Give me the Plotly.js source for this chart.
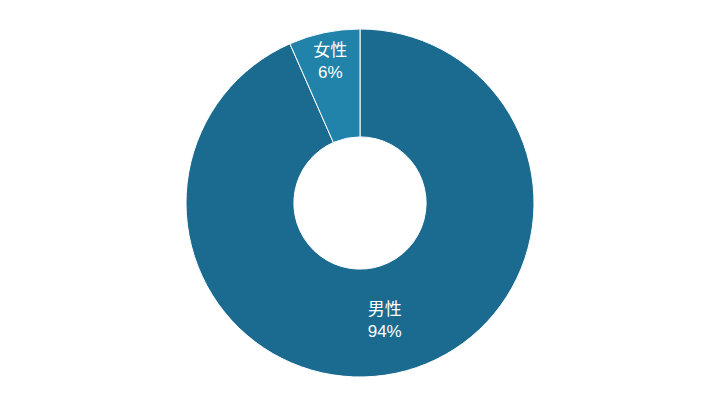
<!DOCTYPE html>
<html>
<head>
<meta charset="utf-8">
<script src="https://cdn.plot.ly/plotly-3.0.1.min.js"></script>
<style>body{margin:0;background:#fff}#chart{width:720px;height:405px}</style>
</head>
<body>
<div id="chart"></div>
<script>
const labels = ['男性', '女性'];
const shares = [93.4, 6.6];
const shareText = ['94%', '6%'];
const colors = ['#1b6b91', '#2283aa'];

const trace = {
	type: 'pie',
	labels: labels,
	values: shares,
	text: shareText,
	hole: 0.38,
	sort: false,
	direction: 'clockwise',
	rotation: 0,
	texttemplate: '%{label}<br>%{text}',
	textposition: 'inside',
	insidetextorientation: 'horizontal',
	textfont: {color: '#ffffff', size: 17, family: 'Liberation Sans, Noto Sans CJK JP, sans-serif'},
	marker: {colors: colors, line: {color: '#ffffff', width: 1}},
	showlegend: false,
	hoverinfo: 'skip'
};

Plotly.newPlot('chart', [trace], {
	width: 720,
	height: 405,
	margin: {l: 0, r: 0, t: 29, b: 28},
	paper_bgcolor: '#ffffff',
	showlegend: false
}, {displayModeBar: false, staticPlot: true});
</script>
</body>
</html>
